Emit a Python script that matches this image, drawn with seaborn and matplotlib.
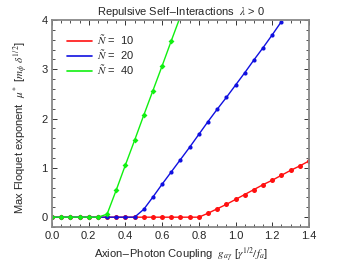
import matplotlib
matplotlib.use("Agg")
import matplotlib.pyplot as plt
import seaborn as sns
import pandas as pd
from matplotlib.ticker import MultipleLocator
from matplotlib.lines import Line2D

g_red = [0.0, 0.05, 0.10, 0.15, 0.20, 0.25, 0.30, 0.35, 0.40, 0.45, 0.50, 0.55, 0.60,
         0.65, 0.70, 0.75, 0.80, 0.85, 0.90, 0.95, 1.00, 1.05, 1.10, 1.15, 1.20, 1.25,
         1.30, 1.35, 1.40]
mu_red = [0, 0, 0, 0, 0, 0, 0, 0, 0, 0, 0, 0, 0, 0, 0, 0, 0, 0.08, 0.17, 0.26, 0.36,
          0.46, 0.56, 0.66, 0.75, 0.85, 0.95, 1.04, 1.14]

g_blue = [0.0, 0.05, 0.10, 0.15, 0.20, 0.25, 0.30, 0.35, 0.40, 0.45, 0.50, 0.55, 0.60,
          0.65, 0.70, 0.75, 0.80, 0.85, 0.90, 0.95, 1.00, 1.05, 1.10, 1.15, 1.20, 1.25]
mu_blue = [0, 0, 0, 0, 0, 0, 0, 0, 0, 0, 0.16, 0.41, 0.67, 0.92, 1.17, 1.42, 1.68,
           1.94, 2.19, 2.43, 2.68, 2.93, 3.19, 3.44, 3.70, 3.97]

g_green = [0.0, 0.05, 0.10, 0.15, 0.20, 0.25, 0.30, 0.35, 0.40, 0.45, 0.50, 0.55,
           0.60, 0.65, 0.70]
mu_green = [0, 0, 0, 0, 0, 0, 0.06, 0.55, 1.06, 1.56, 2.07, 2.57, 3.07, 3.58, 4.08]

labels = [r"$\tilde{N}$ =  10", r"$\tilde{N}$ =  20", r"$\tilde{N}$ =  40"]
colors = ["#ff1010", "#1010e0", "#10f010"]

df = pd.concat([
    pd.DataFrame({"g": g_red, "mu": mu_red, "N": labels[0]}),
    pd.DataFrame({"g": g_blue, "mu": mu_blue, "N": labels[1]}),
    pd.DataFrame({"g": g_green, "mu": mu_green, "N": labels[2]}),
])

sns.set_style("ticks")
plt.rcParams["font.family"] = ["Liberation Sans", "DejaVu Sans"]
plt.rcParams["mathtext.fontset"] = "stix"

fig = plt.figure(figsize=(3.41, 2.64), dpi=100)
ax = fig.add_axes([0.1525, 0.14, 0.7535, 0.784])

markers = {labels[0]: "o", labels[1]: "o", labels[2]: "D"}
sizes = [3.6, 3.0, 3.0]
for lab, col, ms in zip(labels, colors, sizes):
    sub = df[df["N"] == lab]
    sns.lineplot(data=sub, x="g", y="mu", ax=ax, color=col, lw=1.0,
                 marker=markers[lab], markersize=ms, markeredgewidth=0,
                 label=lab, clip_on=True)

ax.set_xlim(0, 1.4)
ax.set_ylim(-0.2, 4)
ax.xaxis.set_major_locator(MultipleLocator(0.2))
ax.xaxis.set_minor_locator(MultipleLocator(0.05))
ax.yaxis.set_major_locator(MultipleLocator(1))
ax.yaxis.set_minor_locator(MultipleLocator(0.2))
ax.tick_params(which="both", direction="in", top=True, right=True,
               labelsize=8, color="#333333", pad=3)
ax.tick_params(which="major", length=3.5, width=0.7)
ax.tick_params(which="minor", length=2, width=0.6)
for s in ax.spines.values():
    s.set_color("#888888")
    s.set_linewidth(1.3)

ax.set_title(r"Repulsive Self$-$Interactions  $\lambda$ > 0", fontsize=8, pad=4)
ax.set_xlabel(r"Axion$-$Photon Coupling  $g_{a\gamma}$ [$\gamma^{1/2}/f_a$]", fontsize=8, labelpad=3)
ax.set_ylabel(r"Max Floquet exponent  $\mu^*$ [$m_\phi\ \delta^{1/2}$]", fontsize=8)
ax.yaxis.set_label_coords(-0.085, 0.48)

handles = [Line2D([], [], color=c, lw=1.2) for c in colors]
ax.legend(handles, labels, loc="upper left", frameon=False, fontsize=8,
          handlelength=2.2, bbox_to_anchor=(0.02, 0.985), labelspacing=0.08,
          handletextpad=0.5)

fig.savefig("out.png", dpi=100)
